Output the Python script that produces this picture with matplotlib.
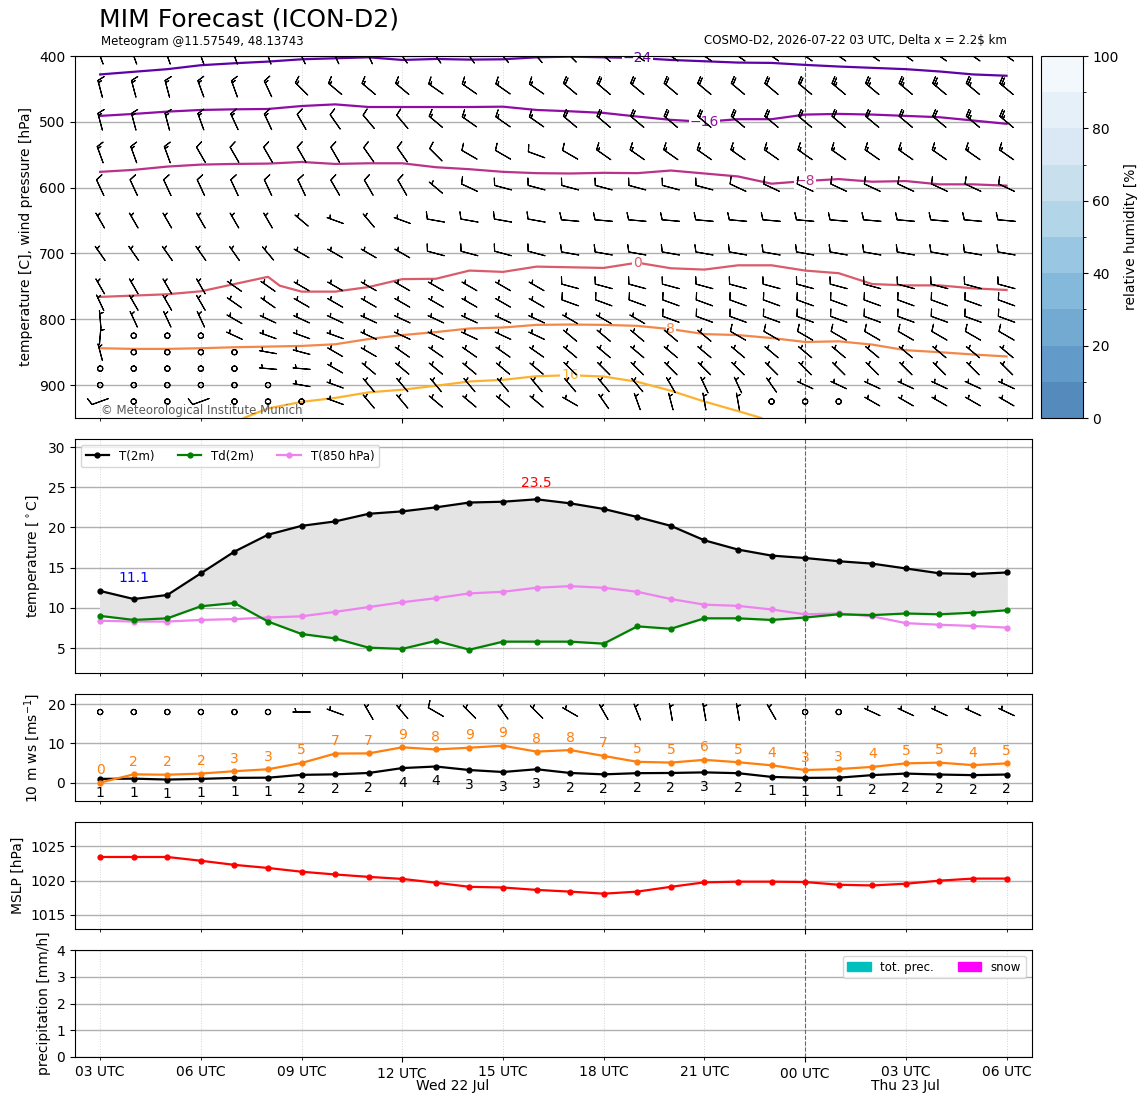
import datetime as dt
import numpy as np
import matplotlib
matplotlib.use("Agg")
import matplotlib.pyplot as plt
from matplotlib.colors import ListedColormap, BoundaryNorm
from matplotlib.cm import ScalarMappable
from matplotlib.patches import Patch
from matplotlib.ticker import FixedLocator, FixedFormatter

# ---------------------------------------------------------------- data
start = dt.datetime(2026, 7, 22, 3)
hours = np.arange(28)                       # hourly forecast steps
times = [start + dt.timedelta(hours=int(h)) for h in hours]

t2m = [12.1, 11.1, 11.6, 14.3, 17.0, 19.1, 20.2, 20.75, 21.7, 22.0, 22.5, 23.1, 23.2, 23.5,
       23.0, 22.3, 21.3, 20.2, 18.4, 17.25, 16.5, 16.2, 15.8, 15.5, 14.9, 14.3, 14.2, 14.4]
td2m = [9.0, 8.5, 8.7, 10.2, 10.6, 8.3, 6.75, 6.2, 5.05, 4.9, 5.9, 4.8, 5.8, 5.8,
        5.8, 5.55, 7.7, 7.4, 8.7, 8.7, 8.5, 8.8, 9.2, 9.1, 9.3, 9.2, 9.4, 9.7]
t850 = [8.4, 8.3, 8.3, 8.5, 8.6, 8.8, 8.95, 9.5, 10.1, 10.7, 11.2, 11.8, 12.0, 12.5,
        12.7, 12.5, 12.0, 11.1, 10.4, 10.25, 9.8, 9.2, 9.3, 8.95, 8.1, 7.9, 7.75, 7.55]

ws10 = [0.94, 1.0, 0.77, 0.94, 1.2, 1.25, 1.97, 2.1, 2.45, 3.7, 4.1, 3.2, 2.7, 3.4,
        2.45, 2.1, 2.4, 2.45, 2.6, 2.4, 1.45, 1.2, 1.25, 1.9, 2.3, 2.05, 1.9, 2.05]
gust10 = [0.0, 2.1, 2.0, 2.3, 2.9, 3.4, 5.0, 7.4, 7.45, 9.0, 8.45, 8.9, 9.4, 7.9,
          8.3, 6.8, 5.3, 5.1, 5.8, 5.2, 4.4, 3.2, 3.45, 4.0, 4.9, 5.1, 4.45, 4.9]
dir10 = [300, 300, 300, 300, 300, 300, 270, 290, 330, 320, 300, 315, 325, 315,
         300, 330, 338, 350, 350, 350, 330, 300, 300, 295, 295, 295, 295, 295]

mslp = [1023.45, 1023.45, 1023.45, 1022.9, 1022.3, 1021.85, 1021.3, 1020.9, 1020.55, 1020.25,
        1019.7, 1019.1, 1019.0, 1018.65, 1018.4, 1018.1, 1018.4, 1019.1, 1019.75, 1019.85,
        1019.85, 1019.8, 1019.4, 1019.3, 1019.55, 1020.0, 1020.3, 1020.3]

tot_prec = [0.0] * 28
snow = [0.0] * 28

# isotherms (pressure of each isotherm at each time)
iso_levels = [-24, -16, -8, 0, 8, 16]
iso_m24_p = [428, 424, 420, 414, 411, 408.5, 405, 403.5, 402, 406, 404.5, 405.5, 405, 402,
             401, 402, 403, 406, 408, 410, 410.5, 413.5, 416, 418, 420, 423.5, 428, 430]
iso_m16_p = [491, 488, 484.5, 482, 481, 480.5, 476, 473.5, 477.5, 477.5, 477.5, 477.5, 477, 482,
             484, 486.5, 492, 497, 500, 496, 496, 489, 488, 489, 491, 493, 498, 503]
iso_m8_p = [576, 573, 568, 565, 564, 563.5, 561, 564, 563, 563, 569, 572, 576, 578,
            578.5, 577.5, 578, 574, 578.5, 583, 594, 590, 587, 591, 590, 595, 595, 597]
iso_0_t = [0, 1, 2, 3, 4, 5, 5.35, 6, 7, 8, 9, 10, 11, 12, 13, 14, 15, 16, 17, 18, 19, 20,
           21, 22, 23, 24, 25, 26, 27]
iso_0_p = [766, 764, 762, 757.5, 746.5, 735.5, 749, 758, 758, 751, 739, 738.5, 726, 728, 720,
           721, 722, 714, 722.5, 724.5, 718, 718, 726, 730, 746.5, 748.5, 748.5, 753, 755.5]
iso_8_p = [844, 845, 845, 844, 842.5, 841.5, 840.5, 838, 830, 824, 819.5, 814, 812.5, 808.5,
           808, 808.5, 810, 815, 822.5, 824, 828.5, 834.5, 833.5, 838.5, 847, 850, 853.5, 856.5]
iso_16_t = [4.28, 5, 6, 7, 8, 9, 10, 11, 12, 13, 14, 15, 16, 17, 18, 19, 19.7]
iso_16_p = [950, 935.5, 925.5, 919.5, 911, 907, 901, 894.5, 892, 886.5, 885, 887, 895,
            908.5, 925, 939.5, 950]
iso_label_t = [16, 18, 21, 16, 17, 14]

# upper-air wind (direction from [deg], speed [kt])
wind_levels = [400, 450, 500, 550, 600, 650, 700, 750, 775, 800, 825, 850, 875, 900, 925]
wind_dir = [
    [340, 340, 340, 340, 340, 340, 335, 335, 335, 325, 325, 325, 320, 320, 315, 310, 305, 305, 305, 305, 305, 305, 305, 305, 305, 305, 305, 305],
    [345, 345, 345, 340, 340, 335, 315, 310, 310, 310, 305, 305, 305, 305, 310, 310, 310, 310, 310, 310, 310, 310, 310, 310, 310, 310, 310, 310],
    [345, 345, 345, 340, 335, 335, 330, 325, 320, 320, 310, 305, 305, 305, 310, 310, 310, 310, 310, 310, 310, 310, 310, 310, 310, 310, 310, 310],
    [340, 340, 340, 330, 330, 330, 330, 330, 325, 325, 315, 300, 300, 290, 300, 305, 305, 305, 305, 305, 305, 305, 305, 305, 305, 305, 305, 305],
    [335, 335, 335, 335, 335, 335, 335, 330, 330, 330, 310, 295, 285, 285, 285, 285, 285, 285, 285, 295, 295, 295, 295, 295, 295, 295, 295, 295],
    [330, 330, 330, 330, 330, 330, 310, 290, 320, 290, 280, 280, 280, 280, 275, 275, 275, 275, 275, 275, 275, 275, 275, 275, 275, 275, 275, 275],
    [325, 325, 325, 325, 325, 320, 300, 300, 300, 300, 285, 285, 285, 285, 280, 280, 280, 280, 280, 280, 280, 280, 280, 280, 280, 280, 280, 280],
    [330, 330, 330, 330, 305, 305, 300, 300, 300, 300, 300, 300, 300, 300, 285, 285, 285, 285, 285, 285, 285, 285, 285, 285, 285, 285, 285, 285],
    [335, 330, 330, 330, 305, 305, 300, 300, 300, 300, 300, 300, 300, 300, 290, 290, 290, 290, 290, 290, 290, 290, 290, 290, 290, 290, 290, 290],
    [355, 335, 335, 335, 300, 295, 295, 295, 295, 295, 295, 295, 295, 295, 300, 300, 300, 290, 290, 290, 290, 290, 290, 290, 290, 290, 290, 290],
    [5, 0, 0, 0, 295, 290, 290, 290, 295, 295, 295, 295, 295, 295, 310, 310, 310, 310, 310, 300, 300, 300, 300, 300, 300, 300, 300, 300],
    [345, 0, 0, 0, 0, 280, 285, 300, 300, 305, 305, 305, 305, 305, 310, 310, 310, 310, 310, 310, 310, 310, 310, 310, 310, 310, 310, 310],
    [0, 0, 0, 0, 0, 275, 275, 300, 310, 310, 310, 310, 310, 310, 315, 315, 315, 315, 315, 315, 315, 315, 315, 315, 315, 315, 315, 315],
    [0, 0, 0, 0, 0, 0, 280, 290, 320, 320, 320, 320, 320, 320, 320, 320, 320, 330, 335, 335, 325, 295, 295, 295, 295, 295, 295, 295],
    [250, 0, 0, 250, 0, 0, 0, 290, 320, 320, 310, 310, 310, 310, 300, 325, 340, 345, 350, 350, 0, 0, 0, 300, 300, 300, 300, 300],
]
wind_spd = [
    [15, 15, 15, 15, 15, 15, 15, 15, 15, 15, 15, 15, 15, 15, 20, 20, 20, 20, 20, 20, 20, 20, 20, 20, 20, 20, 20, 20],
    [15, 15, 15, 15, 15, 15, 15, 15, 15, 15, 15, 15, 15, 15, 20, 20, 20, 20, 20, 20, 20, 20, 25, 25, 25, 25, 25, 25],
    [15, 15, 15, 15, 15, 15, 10, 10, 10, 10, 15, 15, 15, 15, 20, 20, 20, 20, 20, 20, 20, 20, 20, 20, 20, 20, 25, 25],
    [15, 15, 15, 10, 10, 10, 10, 10, 10, 10, 10, 10, 10, 10, 10, 15, 15, 15, 15, 15, 15, 15, 15, 15, 15, 15, 15, 15],
    [10, 10, 10, 10, 10, 10, 10, 10, 10, 10, 5, 10, 10, 10, 10, 10, 10, 10, 10, 10, 10, 10, 10, 10, 10, 10, 10, 10],
    [5, 5, 5, 5, 5, 5, 5, 5, 5, 5, 10, 10, 10, 10, 10, 10, 10, 10, 10, 10, 10, 10, 10, 10, 10, 10, 10, 10],
    [5, 5, 5, 5, 5, 5, 5, 5, 5, 5, 10, 10, 10, 10, 10, 10, 10, 10, 10, 10, 10, 10, 10, 10, 10, 10, 10, 10],
    [5, 5, 5, 5, 5, 5, 5, 5, 5, 5, 5, 5, 5, 5, 10, 10, 10, 10, 10, 10, 10, 10, 10, 10, 10, 10, 10, 10],
    [5, 5, 5, 5, 5, 5, 5, 5, 5, 5, 5, 5, 5, 5, 10, 10, 10, 10, 10, 10, 10, 10, 10, 10, 10, 10, 10, 10],
    [5, 5, 5, 5, 5, 5, 5, 5, 5, 5, 5, 5, 5, 5, 5, 5, 5, 10, 10, 10, 10, 10, 10, 10, 10, 10, 10, 10],
    [5, 0, 0, 0, 5, 5, 5, 5, 5, 5, 5, 5, 5, 5, 5, 5, 5, 5, 5, 10, 10, 10, 10, 10, 10, 10, 10, 10],
    [5, 0, 0, 0, 0, 5, 5, 5, 5, 5, 5, 5, 5, 5, 5, 5, 5, 5, 5, 5, 5, 5, 5, 5, 5, 5, 5, 5],
    [0, 0, 0, 0, 0, 5, 5, 5, 5, 5, 5, 5, 5, 5, 5, 5, 5, 5, 5, 5, 5, 5, 5, 5, 5, 5, 5, 5],
    [0, 0, 0, 0, 0, 0, 5, 5, 5, 5, 5, 5, 5, 5, 5, 5, 5, 5, 5, 5, 5, 5, 5, 5, 5, 5, 5, 5],
    [10, 0, 0, 10, 0, 0, 0, 5, 5, 5, 5, 5, 5, 5, 5, 5, 5, 5, 5, 5, 0, 0, 0, 5, 5, 5, 5, 5],
]

rh_levels = list(range(0, 101, 10))
rh_ticks = [0, 20, 40, 60, 80, 100]
press_ticks = [400, 500, 600, 700, 800, 900]
temp_ticks = [5, 10, 15, 20, 25, 30]
ws_ticks = [0, 10, 20]
mslp_ticks = [1015, 1020, 1025]
prec_ticks = [0, 1, 2, 3, 4]

# ---------------------------------------------------------------- layout
W, H = 1148, 1105
fig = plt.figure(figsize=(W / 100, H / 100), dpi=100)


def box(l, t, r, b):
    return [l / W, 1 - b / H, (r - l) / W, (b - t) / H]


L, R = 75, 1031.7
ax1 = fig.add_axes(box(L, 56, R, 418))
cax = fig.add_axes(box(1040.7, 56, 1082.7, 418))
ax2 = fig.add_axes(box(L, 439, R, 673), sharex=ax1)
ax3 = fig.add_axes(box(L, 694, R, 801), sharex=ax1)
ax4 = fig.add_axes(box(L, 822, R, 929), sharex=ax1)
ax5 = fig.add_axes(box(L, 950, R, 1057), sharex=ax1)
axes = [ax1, ax2, ax3, ax4, ax5]

x = hours
major_idx = [h for h in hours if times[h].hour in (0, 12)]
minor_idx = [h for h in hours if times[h].hour % 3 == 0 and times[h].hour not in (0, 12)]
midnight = [h for h in hours if times[h].hour == 0]

ax1.set_xlim(-0.75, 27.75)
ax1.xaxis.set_major_locator(FixedLocator(major_idx))
ax1.xaxis.set_major_formatter(FixedFormatter([f"{times[h]:%H} UTC" for h in major_idx]))
ax1.xaxis.set_minor_locator(FixedLocator(minor_idx))
ax1.xaxis.set_minor_formatter(FixedFormatter([f"{times[h]:%H} UTC" for h in minor_idx]))

for ax in axes:
    ax.grid(True, axis="x", which="both", linestyle=":", color="#d4d4d4", lw=0.7)
    ax.grid(True, axis="y", which="major", linestyle="-", color="#b0b0b0", lw=1.0)
    ax.set_axisbelow(True)
    for m in midnight:
        ax.axvline(m, color="0.4", ls="--", lw=0.8, zorder=1.5)
    if ax is not ax5:
        ax.tick_params(axis="x", which="both", labelbottom=False)

# ---------------------------------------------------------------- panel 1
for lev, tt, pp, lt, c in zip(
        iso_levels,
        [hours, hours, hours, iso_0_t, hours, iso_16_t],
        [iso_m24_p, iso_m16_p, iso_m8_p, iso_0_p, iso_8_p, iso_16_p],
        iso_label_t,
        plt.cm.plasma([0.17, 0.30, 0.43, 0.57, 0.71, 0.83])):
    ax1.plot(tt, pp, color=c, lw=1.6, zorder=2)
    ax1.text(lt, np.interp(lt, tt, pp), f"{lev}".replace("-", "\u2212"), color=c,
             fontsize=10, ha="center", va="center", zorder=2.5,
             bbox=dict(fc="white", ec="none", pad=0.6))

XX, PP = np.meshgrid(hours, wind_levels)
D = np.deg2rad(np.array(wind_dir, dtype=float))
S = np.array(wind_spd, dtype=float)
ax1.barbs(XX, PP, -S * np.sin(D), -S * np.cos(D), length=5, pivot="middle",
          lw=0.8, zorder=3)
ax1.set_ylim(950, 400)
ax1.set_yticks(press_ticks)
ax1.set_ylabel("temperature [C], wind pressure [hPa]")
ax1.text(0.027, 0.022, "\u00a9 Meteorological Institute Munich", transform=ax1.transAxes,
         fontsize=8.5, color="0.35", va="center", ha="left", zorder=4)

cols = plt.cm.Blues_r(np.linspace(0.15, 0.95, len(rh_levels) - 1))
cols[:, :3] = 0.3 + 0.7 * cols[:, :3]
cmap = ListedColormap(cols)
norm = BoundaryNorm(rh_levels, cmap.N)
cb = fig.colorbar(ScalarMappable(norm=norm, cmap=cmap), cax=cax, ticks=rh_ticks)
cb.set_label("relative humidity [%]")

fig.text(99 / W, 1 - 20 / H, "MIM Forecast (ICON-D2)", fontsize=18, ha="left", va="center")
fig.text(101 / W, 1 - 41 / H, "Meteogram @11.57549, 48.13743", fontsize=8.5,
         ha="left", va="center")
fig.text(1007 / W, 1 - 41 / H, "COSMO-D2, 2026-07-22 03 UTC, Delta x = 2.2$ km",
         fontsize=8.5, ha="right", va="center")

# ---------------------------------------------------------------- panel 2
ax2.fill_between(x, t2m, td2m, color="#e4e4e4", zorder=1)
ax2.plot(x, t2m, "-o", color="black", lw=1.6, ms=3.5, label="T(2m)", zorder=3)
ax2.plot(x, td2m, "-o", color="green", lw=1.6, ms=3.5, label="Td(2m)", zorder=3)
ax2.plot(x, t850, "-o", color="violet", lw=1.6, ms=3.5, label="T(850 hPa)", zorder=2)
imin, imax = int(np.argmin(t2m)), int(np.argmax(t2m))
ax2.annotate(f"{t2m[imin]:.1f}", (x[imin], t2m[imin]), xytext=(0, 15),
             textcoords="offset points", color="blue", fontsize=10, ha="center", va="center")
ax2.annotate(f"{t2m[imax]:.1f}", (x[imax], t2m[imax]), xytext=(0, 12),
             textcoords="offset points", color="red", fontsize=10, ha="center", va="center")
ax2.set_ylim(1.9, 31.0)
ax2.set_yticks(temp_ticks)
ax2.set_ylabel(r"temperature [$^\circ$C]")
ax2.legend(loc="upper left", ncol=3, fontsize=8.5)

# ---------------------------------------------------------------- panel 3
ax3.plot(x, ws10, "-o", color="black", lw=1.6, ms=3.5, zorder=3)
ax3.plot(x, gust10, "-o", color="#ff7f0e", lw=1.6, ms=3.5, zorder=3)
for xi, v in zip(x, ws10):
    ax3.annotate(f"{v:.0f}", (xi, v), xytext=(0, -10.5), textcoords="offset points",
                 color="black", fontsize=10, ha="center", va="center")
for xi, v in zip(x, gust10):
    ax3.annotate(f"{v:.0f}", (xi, v), xytext=(0, 9), textcoords="offset points",
                 color="#ff7f0e", fontsize=10, ha="center", va="center")
kt = np.array(ws10) * 1.944
d10 = np.deg2rad(np.array(dir10, dtype=float))
ax3.barbs(x, np.full(len(x), 18.0), -kt * np.sin(d10), -kt * np.cos(d10), length=5,
          pivot="middle", lw=0.8, zorder=3)
ax3.set_ylim(-4.7, 22.6)
ax3.set_yticks(ws_ticks)
ax3.set_ylabel(r"10 m ws [ms$^{-1}$]")

# ---------------------------------------------------------------- panel 4
ax4.plot(x, mslp, "-o", color="red", lw=1.6, ms=3.5)
ax4.set_ylim(1012.95, 1028.55)
ax4.set_yticks(mslp_ticks)
ax4.set_ylabel("MSLP [hPa]")

# ---------------------------------------------------------------- panel 5
ax5.bar(x, tot_prec, width=0.8, color="c")
ax5.bar(x, snow, width=0.8, color="magenta")
ax5.set_ylim(0, 4)
ax5.set_yticks(prec_ticks)
ax5.set_ylabel("precipitation [mm/h]")
ax5.legend(handles=[Patch(color="c", label="tot. prec."), Patch(color="magenta", label="snow")],
           loc="upper right", ncol=2, fontsize=8.5)

# day labels centred on each day's part of the forecast
days = sorted(set(t.date() for t in times))
for d in days:
    idx = [h for h in hours if times[h].date() == d]
    lo = idx[0]
    hi = min(idx[-1] + 1, hours[-1])
    ax5.annotate(f"{times[lo]:%a %d %b}", xy=((lo + hi) / 2, 0),
                 xycoords=("data", "axes fraction"), xytext=(0, -21),
                 textcoords="offset points", ha="center", va="center", fontsize=10)

fig.savefig("out.png", dpi=100)
